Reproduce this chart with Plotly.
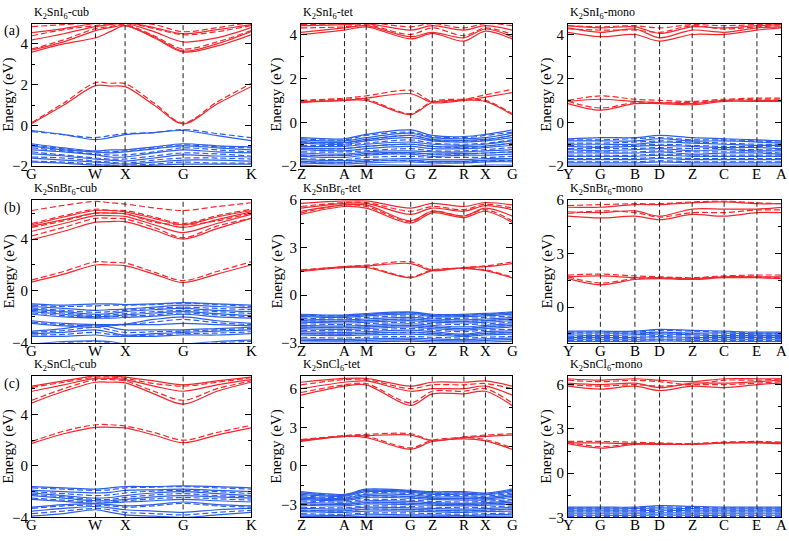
import plotly.graph_objects as go

RED = "#f0282d"
BLUE = "#2b5fe8"
FONT = "Liberation Serif, Times New Roman, serif"

# ---------------- k-paths ----------------
cub_k = [0, 0.145, 0.29, 0.357, 0.425, 0.557, 0.69, 0.845, 1.0]
cub_sym = [0, 0.29, 0.425, 0.69, 1.0]
cub_lab = ["G", "W", "X", "G", "K"]

tet_k = [0, 0.206, 0.309, 0.52, 0.622, 0.772, 0.874, 1.0]
tet_lab = ["Z", "A", "M", "G", "Z", "R", "X", "G"]

mono_k = [0, 0.152, 0.314, 0.43, 0.583, 0.733, 0.887, 1.0]
mono_lab = ["Y", "G", "B", "D", "Z", "C", "E", "A"]

# ---------------- K2SnI6 ----------------
I_cub_cb_s = [[0.1, 1.0, 1.95, 1.93, 1.9, 1.0, 0.08, 1.05, 1.9],
              [3.6, 4.0, 4.3, 4.6, 4.9, 4.3, 3.6, 3.9, 4.45],
              [3.7, 4.1, 4.65, 4.8, 4.9, 4.35, 3.65, 4.0, 4.6],
              [4.2, 4.5, 4.85, 4.95, 5.0, 4.6, 4.1, 4.3, 4.8],
              [4.55, 4.75, 5.0, 5.0, 5.05, 4.8, 4.5, 4.7, 4.95]]
I_cub_cb_d = [[0.15, 1.1, 2.1, 2.07, 2.05, 1.1, 0.12, 1.15, 2.05],
              [3.75, 4.2, 4.75, 4.85, 4.95, 4.4, 3.75, 4.1, 4.65],
              [4.4, 4.7, 4.9, 5.0, 5.05, 4.75, 4.45, 4.6, 4.9],
              [4.85, 4.95, 5.05, 5.05, 5.05, 4.95, 4.6, 4.8, 5.05]]
I_cub_vb_s = [[-0.25, -0.45, -0.7, -0.6, -0.45, -0.35, -0.25, -0.5, -0.75],
              [-0.9, -1.1, -1.25, -1.2, -1.2, -1.05, -0.9, -1.0, -1.05],
              [-1.0, -1.2, -1.3, -1.35, -1.3, -1.15, -1.0, -1.1, -1.2],
              [-1.2, -1.3, -1.45, -1.55, -1.55, -1.35, -1.2, -1.3, -1.35],
              [-1.4, -1.5, -1.65, -1.7, -1.75, -1.6, -1.45, -1.5, -1.55],
              [-1.6, -1.7, -1.8, -1.85, -1.9, -1.8, -1.7, -1.7, -1.75],
              [-1.8, -1.85, -1.95, -1.95, -2.0, -1.95, -1.9, -1.9, -1.9]]
I_cub_vb_d = [[-0.3, -0.45, -0.6, -0.5, -0.4, -0.35, -0.2, -0.4, -0.6],
              [-0.95, -1.15, -1.3, -1.3, -1.25, -1.1, -0.95, -1.05, -1.1],
              [-1.1, -1.25, -1.4, -1.45, -1.45, -1.3, -1.1, -1.2, -1.3],
              [-1.3, -1.45, -1.6, -1.65, -1.65, -1.5, -1.35, -1.4, -1.5],
              [-1.55, -1.6, -1.75, -1.8, -1.85, -1.7, -1.6, -1.6, -1.65],
              [-1.75, -1.8, -1.9, -1.95, -1.95, -1.9, -1.8, -1.85, -1.85]]

I_tet_cb_s = [[0.9, 1.0, 1.0, 0.35, 0.9, 1.0, 0.95, 0.35],
              [0.95, 1.0, 1.1, 1.3, 0.9, 1.0, 1.15, 1.35],
              [4.0, 4.2, 4.35, 3.8, 4.05, 3.7, 4.15, 3.8],
              [4.1, 4.3, 4.4, 3.9, 4.1, 3.85, 4.25, 3.9],
              [4.4, 4.45, 4.5, 4.2, 4.4, 4.2, 4.4, 4.2]]
I_tet_cb_d = [[0.95, 1.05, 1.05, 0.4, 0.95, 1.05, 1.0, 0.4],
              [1.0, 1.1, 1.2, 1.45, 0.95, 1.05, 1.25, 1.5],
              [4.3, 4.35, 4.45, 4.0, 4.3, 3.95, 4.3, 4.0],
              [4.45, 4.5, 4.55, 4.35, 4.5, 4.3, 4.5, 4.4]]
I_tet_vb_s = [[-0.7, -0.75, -0.55, -0.35, -0.6, -0.65, -0.55, -0.35],
              [-0.8, -0.85, -0.7, -0.5, -0.7, -0.75, -0.7, -0.5],
              [-0.88, -0.92, -0.78, -0.6, -0.78, -0.82, -0.78, -0.6],
              [-0.95, -1.0, -0.85, -0.7, -0.85, -0.9, -0.85, -0.7],
              [-1.1, -1.1, -1.0, -0.9, -1.0, -1.05, -1.0, -0.85],
              [-1.18, -1.2, -1.1, -1.0, -1.1, -1.12, -1.08, -0.95],
              [-1.25, -1.3, -1.2, -1.1, -1.2, -1.2, -1.15, -1.05],
              [-1.4, -1.45, -1.35, -1.3, -1.35, -1.35, -1.3, -1.25],
              [-1.48, -1.52, -1.42, -1.38, -1.45, -1.42, -1.4, -1.35],
              [-1.55, -1.6, -1.5, -1.45, -1.55, -1.5, -1.5, -1.45],
              [-1.7, -1.75, -1.7, -1.65, -1.7, -1.7, -1.65, -1.65],
              [-1.78, -1.82, -1.78, -1.72, -1.78, -1.78, -1.72, -1.72],
              [-1.85, -1.9, -1.85, -1.8, -1.85, -1.85, -1.8, -1.8],
              [-1.95, -2.0, -1.95, -1.95, -1.95, -2.0, -1.95, -1.95]]
I_tet_vb_d = [[-0.75, -0.8, -0.6, -0.45, -0.65, -0.7, -0.6, -0.45],
              [-0.9, -0.95, -0.8, -0.6, -0.8, -0.85, -0.8, -0.6],
              [-1.05, -1.05, -0.95, -0.8, -0.95, -1.0, -0.95, -0.8],
              [-1.2, -1.2, -1.1, -1.0, -1.1, -1.15, -1.1, -0.95],
              [-1.35, -1.35, -1.3, -1.2, -1.3, -1.3, -1.25, -1.15],
              [-1.5, -1.5, -1.45, -1.4, -1.45, -1.45, -1.4, -1.35],
              [-1.65, -1.7, -1.6, -1.55, -1.6, -1.6, -1.6, -1.55],
              [-1.8, -1.85, -1.75, -1.75, -1.8, -1.8, -1.75, -1.75]]

I_mono_cb_s = [[0.85, 0.55, 0.85, 0.85, 0.8, 0.95, 0.95, 0.95],
               [0.95, 1.05, 0.95, 0.9, 0.85, 1.0, 1.0, 1.0],
               [4.1, 3.9, 4.0, 3.7, 4.0, 4.0, 4.2, 4.3],
               [4.3, 4.1, 4.25, 3.85, 4.2, 4.1, 4.3, 4.35],
               [4.4, 4.3, 4.35, 4.05, 4.35, 4.3, 4.4, 4.45]]
I_mono_cb_d = [[0.95, 0.65, 0.9, 0.9, 0.9, 1.0, 1.05, 1.05],
               [1.0, 1.2, 1.05, 1.0, 0.95, 1.05, 1.1, 1.1],
               [4.25, 4.2, 4.2, 4.1, 4.4, 4.25, 4.35, 4.4],
               [4.4, 4.35, 4.4, 4.3, 4.45, 4.4, 4.45, 4.45]]
I_mono_vb_s = [[-0.75, -0.7, -0.7, -0.6, -0.7, -0.75, -0.8, -0.85],
               [-0.85, -0.85, -0.85, -0.75, -0.85, -0.85, -0.9, -0.95],
               [-1.0, -1.0, -1.0, -0.9, -0.95, -1.0, -1.05, -1.05],
               [-1.1, -1.15, -1.1, -1.05, -1.1, -1.15, -1.15, -1.2],
               [-1.25, -1.3, -1.25, -1.2, -1.3, -1.25, -1.3, -1.3],
               [-1.4, -1.4, -1.4, -1.35, -1.45, -1.4, -1.4, -1.45],
               [-1.55, -1.55, -1.55, -1.5, -1.55, -1.55, -1.55, -1.55],
               [-1.7, -1.7, -1.7, -1.65, -1.7, -1.7, -1.7, -1.7],
               [-1.85, -1.85, -1.85, -1.8, -1.85, -1.85, -1.85, -1.85],
               [-1.95, -1.95, -1.95, -1.95, -1.95, -1.95, -1.95, -1.95]]
I_mono_vb_d = [[-0.8, -0.8, -0.75, -0.7, -0.8, -0.8, -0.85, -0.9],
               [-0.95, -0.95, -0.9, -0.85, -0.9, -0.95, -1.0, -1.0],
               [-1.05, -1.1, -1.05, -1.0, -1.05, -1.1, -1.1, -1.1],
               [-1.2, -1.2, -1.2, -1.15, -1.2, -1.2, -1.25, -1.25],
               [-1.35, -1.35, -1.35, -1.3, -1.35, -1.35, -1.35, -1.4],
               [-1.5, -1.5, -1.5, -1.45, -1.5, -1.5, -1.5, -1.5],
               [-1.65, -1.65, -1.65, -1.6, -1.65, -1.65, -1.65, -1.65],
               [-1.8, -1.8, -1.8, -1.75, -1.8, -1.8, -1.8, -1.8]]

# ---------------- K2SnBr6 ----------------
Br_cub_cb_s = [[0.7, 1.3, 2.0, 2.0, 1.95, 1.3, 0.65, 1.3, 2.0],
               [3.95, 4.6, 5.3, 5.35, 5.35, 4.7, 4.0, 4.8, 5.6],
               [4.6, 5.2, 5.8, 5.8, 5.75, 5.1, 4.5, 5.2, 5.9],
               [5.0, 5.5, 6.0, 6.0, 5.95, 5.4, 4.9, 5.5, 6.1],
               [5.1, 5.7, 6.2, 6.2, 6.1, 5.6, 5.1, 5.7, 6.2]]
Br_cub_cb_d = [[0.85, 1.5, 2.25, 2.2, 2.15, 1.45, 0.8, 1.5, 2.25],
               [4.25, 4.9, 5.6, 5.6, 5.55, 4.9, 4.1, 5.0, 5.6],
               [4.9, 5.4, 6.0, 6.0, 5.95, 5.3, 5.1, 5.4, 6.0],
               [5.2, 5.8, 6.3, 6.2, 6.2, 5.7, 5.2, 5.8, 6.3],
               [6.2, 6.6, 6.9, 6.8, 6.7, 6.4, 6.2, 6.5, 6.8]]
Br_cub_vb_s = [[-1.0, -1.1, -1.0, -1.0, -1.05, -1.0, -0.9, -1.0, -1.1],
               [-1.2, -1.35, -1.5, -1.45, -1.4, -1.25, -1.1, -1.2, -1.3],
               [-1.4, -1.6, -1.8, -1.75, -1.6, -1.45, -1.35, -1.5, -1.6],
               [-1.6, -1.8, -2.0, -1.95, -1.85, -1.7, -1.6, -1.75, -1.9],
               [-1.8, -2.0, -2.1, -2.1, -2.05, -1.95, -1.8, -2.0, -2.1],
               [-2.3, -2.5, -2.6, -2.6, -2.55, -2.2, -2.0, -2.3, -2.5],
               [-2.5, -2.7, -2.8, -2.7, -2.6, -2.6, -2.5, -2.6, -2.7],
               [-3.1, -2.9, -2.6, -2.8, -3.0, -3.0, -3.0, -2.9, -2.8],
               [-3.3, -3.2, -3.0, -3.2, -3.4, -3.3, -3.2, -3.1, -3.0],
               [-3.5, -3.5, -3.4, -3.5, -3.5, -3.5, -3.4, -3.4, -3.3],
               [-4.1, -3.9, -3.85, -3.9, -4.1, -4.1, -4.1, -3.9, -3.8]]
Br_cub_vb_d = [[-1.1, -1.2, -1.15, -1.1, -1.1, -1.05, -0.95, -1.05, -1.2],
               [-1.3, -1.5, -1.65, -1.6, -1.5, -1.35, -1.25, -1.35, -1.45],
               [-1.5, -1.7, -1.9, -1.85, -1.75, -1.6, -1.5, -1.6, -1.75],
               [-1.7, -1.9, -2.05, -2.0, -1.95, -1.85, -1.7, -1.85, -2.0],
               [-2.4, -2.6, -2.7, -2.65, -2.6, -2.4, -2.2, -2.45, -2.6],
               [-3.2, -3.05, -2.8, -3.0, -3.2, -3.15, -3.1, -3.0, -2.9],
               [-3.4, -3.35, -3.2, -3.35, -3.45, -3.4, -3.3, -3.25, -3.15],
               [-4.2, -4.0, -3.9, -4.0, -4.2, -4.2, -4.2, -4.0, -3.9]]

Br_tet_cb_s = [[1.5, 1.75, 1.75, 1.1, 1.55, 1.7, 1.55, 1.1],
               [1.55, 1.8, 1.85, 2.0, 1.55, 1.75, 1.8, 2.0],
               [5.1, 5.6, 5.5, 4.55, 5.2, 4.9, 5.3, 4.6],
               [5.3, 5.7, 5.7, 4.7, 5.3, 5.0, 5.5, 5.0],
               [5.5, 5.8, 5.8, 5.1, 5.5, 5.3, 5.65, 5.4],
               [5.8, 5.95, 5.95, 5.5, 5.8, 5.6, 5.85, 5.7]]
Br_tet_cb_d = [[1.55, 1.75, 1.8, 1.15, 1.6, 1.7, 1.6, 1.15],
               [1.6, 1.8, 1.9, 2.1, 1.6, 1.75, 1.85, 2.1],
               [5.2, 5.7, 5.6, 4.65, 5.3, 5.0, 5.4, 4.7],
               [5.6, 5.85, 5.85, 5.3, 5.6, 5.4, 5.75, 5.5]]
Br_tet_vb_s = [[-1.2, -1.25, -1.15, -1.05, -1.2, -1.2, -1.15, -1.05],
               [-1.28, -1.32, -1.22, -1.12, -1.28, -1.28, -1.22, -1.12],
               [-1.35, -1.4, -1.3, -1.2, -1.35, -1.35, -1.3, -1.2],
               [-1.5, -1.55, -1.5, -1.4, -1.5, -1.55, -1.5, -1.4],
               [-1.6, -1.65, -1.6, -1.5, -1.6, -1.65, -1.6, -1.5],
               [-1.7, -1.75, -1.7, -1.6, -1.7, -1.75, -1.7, -1.6],
               [-1.9, -1.95, -1.9, -1.8, -1.9, -2.0, -1.9, -1.8],
               [-2.0, -2.05, -2.0, -1.9, -2.0, -2.1, -2.0, -1.9],
               [-2.1, -2.15, -2.1, -2.0, -2.1, -2.2, -2.1, -2.0],
               [-2.3, -2.35, -2.3, -2.2, -2.3, -2.45, -2.3, -2.25],
               [-2.4, -2.45, -2.4, -2.32, -2.4, -2.52, -2.4, -2.35],
               [-2.5, -2.55, -2.5, -2.45, -2.5, -2.6, -2.5, -2.45],
               [-2.75, -2.8, -2.75, -2.7, -2.75, -2.8, -2.75, -2.7],
               [-2.85, -2.88, -2.85, -2.8, -2.85, -2.88, -2.85, -2.8],
               [-2.95, -2.95, -2.95, -2.9, -2.95, -2.95, -2.95, -2.9]]
Br_tet_vb_d = [[-1.25, -1.3, -1.2, -1.1, -1.25, -1.25, -1.2, -1.1],
               [-1.45, -1.5, -1.4, -1.3, -1.45, -1.45, -1.4, -1.3],
               [-1.6, -1.65, -1.6, -1.5, -1.6, -1.65, -1.6, -1.5],
               [-1.8, -1.85, -1.8, -1.7, -1.8, -1.85, -1.8, -1.7],
               [-2.0, -2.05, -2.0, -1.9, -2.0, -2.1, -2.0, -1.9],
               [-2.2, -2.25, -2.2, -2.1, -2.2, -2.3, -2.2, -2.15],
               [-2.4, -2.45, -2.4, -2.35, -2.4, -2.55, -2.4, -2.35],
               [-2.65, -2.7, -2.65, -2.6, -2.65, -2.7, -2.65, -2.6]]

Br_mono_cb_s = [[1.6, 1.25, 1.55, 1.6, 1.55, 1.65, 1.65, 1.6],
                [1.7, 1.75, 1.65, 1.65, 1.6, 1.7, 1.7, 1.7],
                [5.1, 5.0, 5.1, 4.9, 5.2, 5.1, 5.3, 5.3],
                [5.35, 5.3, 5.4, 5.1, 5.5, 5.5, 5.5, 5.6],
                [5.6, 5.6, 5.75, 5.75, 5.85, 5.9, 5.8, 5.8]]
Br_mono_cb_d = [[1.7, 1.35, 1.6, 1.65, 1.6, 1.7, 1.7, 1.65],
                [1.8, 1.85, 1.75, 1.7, 1.65, 1.75, 1.8, 1.8],
                [5.25, 5.4, 5.3, 5.05, 5.3, 5.3, 5.45, 5.45],
                [5.7, 5.75, 5.8, 5.8, 5.9, 5.95, 5.85, 5.8]]
Br_mono_vb_s = [[-1.35, -1.35, -1.35, -1.25, -1.3, -1.35, -1.4, -1.4],
                [-1.45, -1.45, -1.45, -1.4, -1.45, -1.45, -1.5, -1.5],
                [-1.55, -1.6, -1.55, -1.5, -1.55, -1.6, -1.6, -1.6],
                [-1.7, -1.7, -1.7, -1.65, -1.7, -1.7, -1.7, -1.7],
                [-1.8, -1.8, -1.8, -1.8, -1.8, -1.8, -1.8, -1.8],
                [-1.92, -1.92, -1.92, -1.9, -1.92, -1.92, -1.92, -1.92]]
Br_mono_vb_d = [[-1.4, -1.4, -1.4, -1.3, -1.35, -1.4, -1.45, -1.45],
                [-1.5, -1.52, -1.5, -1.45, -1.5, -1.52, -1.55, -1.55],
                [-1.63, -1.65, -1.63, -1.6, -1.62, -1.65, -1.65, -1.65],
                [-1.75, -1.75, -1.75, -1.72, -1.75, -1.75, -1.75, -1.75],
                [-1.86, -1.86, -1.86, -1.85, -1.86, -1.86, -1.86, -1.86]]

# ---------------- K2SnCl6 ----------------
Cl_cub_cb_s = [[1.75, 2.5, 3.0, 3.0, 2.95, 2.4, 1.8, 2.4, 2.95],
               [4.9, 5.8, 6.5, 6.5, 6.45, 5.6, 4.8, 5.8, 6.5],
               [5.8, 6.3, 6.8, 6.8, 6.7, 6.2, 5.8, 6.3, 6.7],
               [6.2, 6.6, 7.0, 7.0, 6.9, 6.6, 6.3, 6.6, 6.9]]
Cl_cub_cb_d = [[1.9, 2.7, 3.2, 3.2, 3.1, 2.6, 2.0, 2.6, 3.15],
               [5.1, 6.0, 6.7, 6.7, 6.6, 5.8, 5.1, 6.0, 6.6],
               [6.1, 6.5, 6.9, 6.9, 6.8, 6.4, 6.2, 6.5, 6.85]]
Cl_cub_vb_s = [[-1.6, -1.7, -1.8, -1.7, -1.6, -1.6, -1.55, -1.6, -1.7],
               [-1.9, -2.0, -2.1, -2.05, -1.9, -1.85, -1.8, -1.9, -2.0],
               [-2.1, -2.3, -2.5, -2.45, -2.3, -2.1, -2.0, -2.15, -2.3],
               [-2.3, -2.5, -2.7, -2.7, -2.6, -2.4, -2.3, -2.4, -2.5],
               [-2.6, -2.75, -2.9, -2.85, -2.8, -2.7, -2.6, -2.7, -2.8],
               [-3.2, -3.0, -2.95, -3.0, -3.1, -3.0, -2.8, -3.0, -3.1],
               [-3.5, -3.3, -3.15, -3.25, -3.4, -3.5, -3.6, -3.4, -3.3],
               [-3.9, -3.7, -3.4, -3.6, -3.8, -3.9, -4.0, -3.8, -3.6]]
Cl_cub_vb_d = [[-1.7, -1.8, -1.9, -1.85, -1.7, -1.65, -1.6, -1.7, -1.8],
               [-2.0, -2.15, -2.3, -2.25, -2.1, -1.95, -1.9, -2.0, -2.15],
               [-2.2, -2.4, -2.6, -2.6, -2.45, -2.25, -2.15, -2.3, -2.4],
               [-2.5, -2.65, -2.8, -2.8, -2.7, -2.55, -2.45, -2.55, -2.65],
               [-3.3, -3.1, -3.05, -3.1, -3.2, -3.1, -2.9, -3.1, -3.2],
               [-3.7, -3.5, -3.3, -3.4, -3.6, -3.7, -3.8, -3.6, -3.45]]

Cl_tet_cb_s = [[1.9, 2.3, 2.2, 1.3, 1.9, 2.1, 1.95, 1.3],
               [2.0, 2.3, 2.35, 2.4, 1.95, 2.2, 2.3, 2.4],
               [5.5, 6.2, 6.3, 4.7, 5.6, 5.6, 5.8, 4.7],
               [6.0, 6.5, 6.6, 5.8, 6.0, 6.0, 6.2, 5.5],
               [6.5, 6.8, 6.8, 6.2, 6.5, 6.5, 6.6, 6.2]]
Cl_tet_cb_d = [[1.95, 2.35, 2.3, 1.4, 2.0, 2.2, 2.05, 1.4],
               [2.05, 2.35, 2.45, 2.5, 2.0, 2.25, 2.4, 2.5],
               [5.7, 6.3, 6.4, 4.9, 5.8, 5.8, 6.0, 4.9],
               [6.3, 6.7, 6.7, 6.0, 6.3, 6.3, 6.4, 6.0]]
Cl_tet_vb_s = [[-2.0, -2.2, -1.8, -1.9, -2.0, -2.0, -2.1, -1.8],
               [-2.1, -2.28, -1.9, -1.98, -2.1, -2.1, -2.18, -1.9],
               [-2.2, -2.35, -2.0, -2.05, -2.2, -2.2, -2.25, -2.0],
               [-2.4, -2.5, -2.2, -2.25, -2.4, -2.4, -2.45, -2.2],
               [-2.5, -2.6, -2.32, -2.38, -2.5, -2.52, -2.55, -2.32],
               [-2.6, -2.7, -2.45, -2.5, -2.6, -2.65, -2.65, -2.45],
               [-2.8, -2.9, -2.7, -2.75, -2.85, -2.9, -2.85, -2.7],
               [-2.92, -3.0, -2.82, -2.88, -2.95, -3.0, -2.95, -2.82],
               [-3.05, -3.1, -2.95, -3.0, -3.05, -3.1, -3.05, -2.95],
               [-3.3, -3.35, -3.2, -3.25, -3.3, -3.35, -3.3, -3.2],
               [-3.42, -3.48, -3.35, -3.38, -3.42, -3.48, -3.42, -3.35],
               [-3.55, -3.6, -3.5, -3.5, -3.55, -3.6, -3.55, -3.5],
               [-3.8, -3.85, -3.75, -3.8, -3.8, -3.85, -3.8, -3.75],
               [-3.92, -3.95, -3.9, -3.9, -3.92, -3.95, -3.92, -3.9]]
Cl_tet_vb_d = [[-2.1, -2.25, -1.9, -1.95, -2.1, -2.1, -2.15, -1.9],
               [-2.3, -2.45, -2.1, -2.15, -2.3, -2.3, -2.35, -2.1],
               [-2.5, -2.6, -2.35, -2.4, -2.5, -2.55, -2.55, -2.35],
               [-2.7, -2.8, -2.6, -2.65, -2.75, -2.8, -2.75, -2.6],
               [-2.95, -3.0, -2.85, -2.9, -2.95, -3.0, -2.95, -2.85],
               [-3.2, -3.25, -3.1, -3.15, -3.2, -3.25, -3.2, -3.1],
               [-3.45, -3.5, -3.35, -3.4, -3.45, -3.5, -3.45, -3.35],
               [-3.7, -3.75, -3.65, -3.65, -3.7, -3.75, -3.7, -3.65]]

Cl_mono_cb_s = [[2.0, 1.7, 1.95, 1.95, 1.95, 2.05, 2.05, 2.0],
                [2.05, 2.05, 2.0, 2.0, 1.95, 2.05, 2.1, 2.05],
                [5.9, 5.7, 5.9, 5.6, 5.9, 5.8, 6.0, 6.1],
                [6.1, 6.0, 6.1, 5.8, 6.1, 6.1, 6.2, 6.3],
                [6.4, 6.3, 6.4, 6.3, 6.2, 6.4, 6.4, 6.4]]
Cl_mono_cb_d = [[2.1, 1.8, 2.0, 2.0, 2.0, 2.1, 2.1, 2.05],
                [2.15, 2.15, 2.1, 2.05, 2.0, 2.1, 2.15, 2.1],
                [6.0, 5.9, 6.0, 5.9, 6.0, 6.0, 6.1, 6.2],
                [6.3, 6.2, 6.3, 6.2, 6.0, 6.3, 6.3, 6.4]]
Cl_mono_vb_s = [[-2.3, -2.3, -2.3, -2.2, -2.25, -2.3, -2.3, -2.3],
                [-2.4, -2.42, -2.4, -2.35, -2.4, -2.42, -2.42, -2.42],
                [-2.55, -2.55, -2.55, -2.5, -2.55, -2.55, -2.55, -2.55],
                [-2.7, -2.7, -2.7, -2.68, -2.7, -2.7, -2.7, -2.7],
                [-2.85, -2.85, -2.85, -2.83, -2.85, -2.85, -2.85, -2.85]]
Cl_mono_vb_d = [[-2.35, -2.35, -2.35, -2.28, -2.32, -2.35, -2.35, -2.35],
                [-2.48, -2.48, -2.48, -2.43, -2.48, -2.48, -2.48, -2.48],
                [-2.62, -2.62, -2.62, -2.6, -2.62, -2.62, -2.62, -2.62],
                [-2.78, -2.78, -2.78, -2.76, -2.78, -2.78, -2.78, -2.78],
                [-2.93, -2.93, -2.93, -2.92, -2.93, -2.93, -2.93, -2.93]]

titles = ["K<sub>2</sub>SnI<sub>6</sub>-cub", "K<sub>2</sub>SnI<sub>6</sub>-tet", "K<sub>2</sub>SnI<sub>6</sub>-mono",
          "K<sub>2</sub>SnBr<sub>6</sub>-cub", "K<sub>2</sub>SnBr<sub>6</sub>-tet", "K<sub>2</sub>SnBr<sub>6</sub>-mono",
          "K<sub>2</sub>SnCl<sub>6</sub>-cub", "K<sub>2</sub>SnCl<sub>6</sub>-tet", "K<sub>2</sub>SnCl<sub>6</sub>-mono"]
row_tags = ["(a)", "(b)", "(c)"]

y_ranges = [[-2, 5], [-2, 4.5], [-2, 4.5],
            [-4, 7], [-3, 6], [-2, 6],
            [-4, 7], [-4, 7], [-3, 6.6]]
y_dticks = [2, 2, 2, 4, 3, 3, 4, 3, 3]

panel_data = [
    ("cub", I_cub_cb_s, I_cub_cb_d, I_cub_vb_s, I_cub_vb_d),
    ("tet", I_tet_cb_s, I_tet_cb_d, I_tet_vb_s, I_tet_vb_d),
    ("mono", I_mono_cb_s, I_mono_cb_d, I_mono_vb_s, I_mono_vb_d),
    ("cub", Br_cub_cb_s, Br_cub_cb_d, Br_cub_vb_s, Br_cub_vb_d),
    ("tet", Br_tet_cb_s, Br_tet_cb_d, Br_tet_vb_s, Br_tet_vb_d),
    ("mono", Br_mono_cb_s, Br_mono_cb_d, Br_mono_vb_s, Br_mono_vb_d),
    ("cub", Cl_cub_cb_s, Cl_cub_cb_d, Cl_cub_vb_s, Cl_cub_vb_d),
    ("tet", Cl_tet_cb_s, Cl_tet_cb_d, Cl_tet_vb_s, Cl_tet_vb_d),
    ("mono", Cl_mono_cb_s, Cl_mono_cb_d, Cl_mono_vb_s, Cl_mono_vb_d),
]
paths = {"cub": (cub_k, cub_sym, cub_lab),
         "tet": (tet_k, tet_k, tet_lab),
         "mono": (mono_k, mono_k, mono_lab)}

# ---------------- layout geometry (pixels) ----------------
W, H = 789, 541
col_px = [(32, 251), (301, 512), (568, 781)]
row_px = [(16, 163), (198, 345), (379, 525)]
ylab_x = [9, 277, 547]

fig = go.Figure()
layout = dict(width=W, height=H, margin=dict(l=0, r=0, t=0, b=0),
              paper_bgcolor="white", plot_bgcolor="white",
              font=dict(family=FONT, color="black", size=14),
              showlegend=False, hovermode=False)
shapes = []
annotations = []

DASH = "6px,3px"


def merged(k, bands):
    xs, ys = [], []
    for b in bands:
        xs += list(k) + [None]
        ys += list(b) + [None]
    return xs, ys


for i, (kind, cbs, cbd, vbs, vbd) in enumerate(panel_data):
    r, c = divmod(i, 3)
    n = i + 1
    xa = "x" if n == 1 else f"x{n}"
    ya = "y" if n == 1 else f"y{n}"
    k, sym, lab = paths[kind]
    x0, x1 = col_px[c]
    yt, yb = row_px[r]
    dt = y_dticks[i]
    layout["xaxis" if n == 1 else f"xaxis{n}"] = dict(
        domain=[x0 / W, x1 / W], range=[0, 1], anchor=ya,
        showticklabels=False, ticks="",
        showgrid=False, zeroline=False, showline=True, linecolor="black",
        linewidth=1, mirror=True)
    layout["yaxis" if n == 1 else f"yaxis{n}"] = dict(
        domain=[1 - yb / H, 1 - yt / H], range=y_ranges[i], anchor=xa,
        dtick=dt, tick0=0, ticks="inside", ticklen=6, tickcolor="black",
        minor=dict(dtick=dt / 2, tick0=0, ticks="inside", ticklen=3, tickcolor="black"),
        showgrid=False, zeroline=False, showline=True, linecolor="black",
        linewidth=1, mirror="ticks", tickfont=dict(size=15, family=FONT))

    for bands, color, dash in [(vbs, BLUE, "solid"), (vbd, BLUE, DASH),
                               (cbs, RED, "solid"), (cbd, RED, DASH)]:
        xs, ys = merged(k, bands)
        fig.add_trace(go.Scatter(x=xs, y=ys, mode="lines", xaxis=xa, yaxis=ya,
                                 line=dict(color=color, width=1.2, dash=dash,
                                           shape="spline", smoothing=0.9),
                                 hoverinfo="skip", showlegend=False))

    for s in sym[1:-1]:
        shapes.append(dict(type="line", xref=xa, yref=f"{ya} domain",
                           x0=s, x1=s, y0=0, y1=1,
                           line=dict(color="#222222", width=1, dash="5px,3px")))

    # k-point labels under each panel
    for j, (s, t) in enumerate(zip(sym, lab)):
        annotations.append(dict(text=t, x=s, xref=xa, y=1 - (yb + 8) / H,
                                yref="paper", xanchor="center",
                                yanchor="middle", borderpad=0,
                                showarrow=False, font=dict(size=15, family=FONT)))

    annotations.append(dict(text=titles[i], x=x0 / W, y=1 - (yt - 1) / H,
                            xref="paper", yref="paper", xanchor="left",
                            yanchor="bottom", showarrow=False,
                            font=dict(size=12, family=FONT)))
    annotations.append(dict(text="Energy (eV)", x=ylab_x[c] / W,
                            y=1 - ((yt + yb) / 2) / H, xref="paper", yref="paper",
                            xanchor="center", yanchor="middle", textangle=-90,
                            showarrow=False, font=dict(size=15, family=FONT)))

for r, tag in enumerate(row_tags):
    annotations.append(dict(text=tag, x=2 / W, y=1 - (row_px[r][0] + 8) / H,
                            xref="paper", yref="paper", xanchor="left",
                            yanchor="middle", showarrow=False,
                            font=dict(size=14, family=FONT)))

layout["shapes"] = shapes
layout["annotations"] = annotations
fig.update_layout(**layout)
fig.write_html("out.html",
               config={"displayModeBar": False, "staticPlot": True},
               post_script="document.body.style.margin='0';"
                           "document.body.style.padding='0';"
                           "document.body.style.overflow='hidden';")
